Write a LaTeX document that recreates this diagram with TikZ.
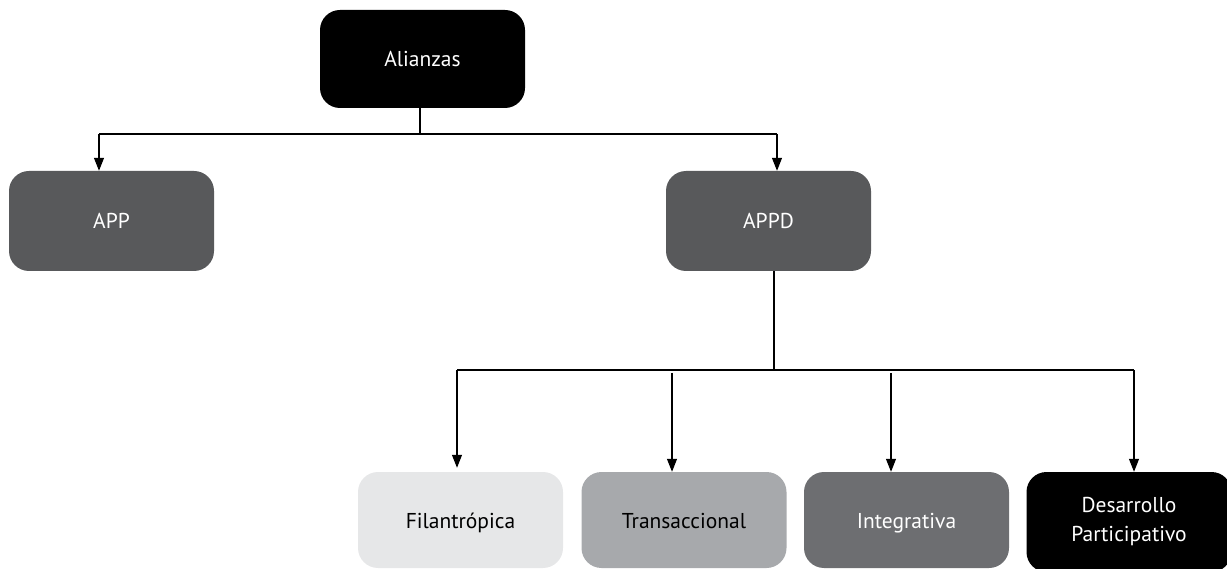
\documentclass[tikz,border=0pt]{standalone}
\usepackage{fontspec}
\setmainfont{PT Sans}
\usetikzlibrary{arrows.meta}
\definecolor{dgray}{HTML}{58595B}
\definecolor{lgray}{HTML}{E6E7E8}
\definecolor{mgray}{HTML}{A7A9AC}
\definecolor{igray}{HTML}{6D6E71}
\tikzset{
  box/.style={rounded corners=20pt, minimum width=205pt, inner sep=0pt,
    font=\fontsize{21.5}{29}\selectfont, align=center},
  single/.style={text height=18pt, text depth=2pt},
  darkbox/.style={box, fill=#1, text=white},
  lightbox/.style={box, fill=#1, text=black},
  link/.style={line width=1.2pt, draw=black},
  arr/.style={link, -{Triangle[length=13pt,width=10pt]}},
}
\begin{document}
\begin{tikzpicture}[x=1pt,y=-1pt]
\useasboundingbox (0,0) rectangle (1227,569);
\node[darkbox=black, single, minimum height=98pt] (al) at (422.5,59) {Alianzas};
\node[darkbox=dgray, single, minimum height=100pt] (app) at (111.5,221) {APP};
\node[darkbox=dgray, single, minimum height=100pt] (appd) at (768.5,221) {APPD};
\node[lightbox=lgray, single, minimum height=96pt] (fil) at (460.5,520) {Filantrópica};
\node[lightbox=mgray, single, minimum height=96pt] (tra) at (684,520) {Transaccional};
\node[darkbox=igray, single, minimum height=96pt] (int) at (906.5,520) {Integrativa};
\node[darkbox=black, minimum height=100pt] (des) at (1129,522) {Desarrollo\\Participativo};
% first level
\coordinate (b1) at (420,134);
\coordinate (b1l) at (99,134);
\coordinate (b1r) at (777,134);
\draw[link] (al.south -| b1) -- (b1);
\draw[link] (b1l) -- (b1r);
\draw[arr] (b1l) -- (b1l |- app.north);
\draw[arr] (b1r) -- (b1r |- appd.north);
% second level
\coordinate (b2) at (774,370);
\coordinate (b2l) at (457,370);
\coordinate (b2r) at (1134,370);
\coordinate (t2) at (672,373);
\coordinate (i2) at (891,373);
\draw[link] (appd.south -| b2) -- (b2);
\draw[link] (b2l) -- (b2r);
\draw[arr] (b2l) -- ([yshift=4pt]b2l |- fil.north);
\draw[arr] (t2) -- (t2 |- tra.north);
\draw[arr] (i2) -- (i2 |- int.north);
\draw[arr] (b2r) -- (b2r |- des.north);
\end{tikzpicture}
\end{document}
